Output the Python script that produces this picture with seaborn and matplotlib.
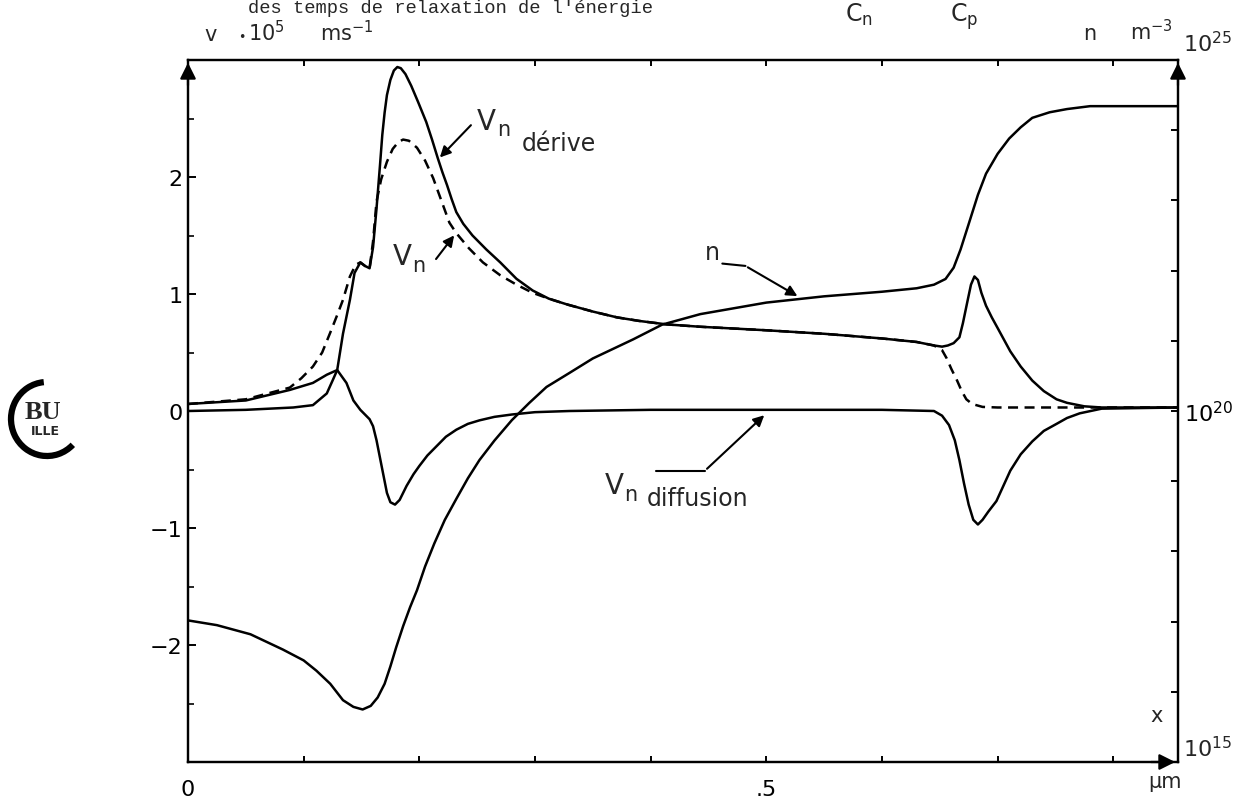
import matplotlib
matplotlib.use("Agg")
import matplotlib.pyplot as plt
import seaborn as sns
from matplotlib.ticker import FixedLocator, NullFormatter
from matplotlib.patches import Arc

# ---------------- data ----------------
# x in micrometre, velocities in 1e5 m/s, n in m^-3
x_derive = [0.0, 0.05, 0.091, 0.108, 0.120, 0.125, 0.129, 0.134, 0.140, 0.144,
            0.149, 0.153, 0.157, 0.160, 0.163, 0.166, 0.168, 0.170, 0.172, 0.175,
            0.178, 0.181, 0.184, 0.188, 0.193, 0.199, 0.206, 0.211, 0.216, 0.220,
            0.224, 0.228, 0.232, 0.238, 0.246, 0.258, 0.270, 0.284, 0.298, 0.312,
            0.328, 0.350, 0.371, 0.390, 0.414, 0.443, 0.50, 0.55, 0.60, 0.630,
            0.645, 0.652, 0.657, 0.662, 0.667, 0.670, 0.674, 0.677, 0.680, 0.683,
            0.686, 0.690, 0.695, 0.700, 0.711, 0.720, 0.730, 0.740, 0.751, 0.760,
            0.775, 0.790, 0.856]
v_derive = [0.0, 0.01, 0.03, 0.05, 0.15, 0.26, 0.35, 0.66, 0.95, 1.18,
            1.27, 1.24, 1.22, 1.40, 1.73, 2.10, 2.36, 2.55, 2.70, 2.83,
            2.91, 2.94, 2.93, 2.88, 2.78, 2.64, 2.47, 2.32, 2.16, 2.04,
            1.93, 1.81, 1.70, 1.60, 1.50, 1.38, 1.27, 1.13, 1.03, 0.96,
            0.91, 0.85, 0.80, 0.77, 0.74, 0.72, 0.69, 0.66, 0.62, 0.59,
            0.56, 0.55, 0.56, 0.58, 0.63, 0.75, 0.94, 1.08, 1.15, 1.12,
            1.01, 0.90, 0.80, 0.71, 0.51, 0.38, 0.26, 0.17, 0.10, 0.07,
            0.04, 0.03, 0.03]

x_total = [0.0, 0.05, 0.088, 0.098, 0.108, 0.116, 0.123, 0.129, 0.134, 0.140,
           0.145, 0.149, 0.153, 0.157, 0.160, 0.163, 0.167, 0.172, 0.177, 0.182,
           0.186, 0.191, 0.198, 0.205, 0.212, 0.219, 0.226, 0.232, 0.243, 0.255,
           0.270, 0.284, 0.298, 0.312, 0.328, 0.350, 0.371, 0.390, 0.414, 0.443,
           0.50, 0.55, 0.60, 0.630, 0.645, 0.652, 0.656, 0.660, 0.665, 0.669,
           0.673, 0.678, 0.687, 0.700, 0.75, 0.80, 0.856]
v_total = [0.06, 0.10, 0.20, 0.28, 0.38, 0.50, 0.67, 0.82, 0.95, 1.15,
           1.25, 1.27, 1.24, 1.22, 1.45, 1.79, 1.98, 2.13, 2.24, 2.30,
           2.32, 2.31, 2.25, 2.14, 1.99, 1.80, 1.61, 1.52, 1.39, 1.27,
           1.16, 1.08, 1.01, 0.96, 0.91, 0.85, 0.80, 0.77, 0.74, 0.72,
           0.69, 0.66, 0.62, 0.59, 0.56, 0.52, 0.45, 0.36, 0.26, 0.17,
           0.10, 0.06, 0.035, 0.03, 0.03, 0.03, 0.03]

x_diff = [0.0, 0.05, 0.088, 0.108, 0.120, 0.129, 0.137, 0.143, 0.149, 0.153,
          0.157, 0.160, 0.163, 0.166, 0.169, 0.172, 0.175, 0.179, 0.183, 0.189,
          0.195, 0.200, 0.207, 0.215, 0.223, 0.232, 0.242, 0.252, 0.265, 0.280,
          0.300, 0.330, 0.40, 0.50, 0.60, 0.645, 0.652, 0.658, 0.663, 0.667,
          0.671, 0.675, 0.679, 0.683, 0.687, 0.692, 0.699, 0.705, 0.711, 0.720,
          0.730, 0.740, 0.751, 0.760, 0.771, 0.790, 0.856]
v_diff = [0.06, 0.09, 0.18, 0.24, 0.31, 0.35, 0.24, 0.09, 0.01, -0.03,
          -0.07, -0.13, -0.25, -0.40, -0.55, -0.70, -0.78, -0.80, -0.76, -0.64,
          -0.54, -0.47, -0.38, -0.30, -0.22, -0.16, -0.11, -0.08, -0.05, -0.03,
          -0.01, 0.0, 0.01, 0.01, 0.01, 0.0, -0.04, -0.12, -0.25, -0.42,
          -0.62, -0.80, -0.93, -0.97, -0.93, -0.86, -0.77, -0.64, -0.51, -0.37,
          -0.26, -0.17, -0.11, -0.06, -0.02, 0.02, 0.03]

x_n = [0.0, 0.025, 0.054, 0.082, 0.100, 0.111, 0.123, 0.134, 0.143, 0.151,
       0.158, 0.164, 0.170, 0.175, 0.180, 0.186, 0.192, 0.198, 0.205, 0.213,
       0.222, 0.232, 0.242, 0.252, 0.265, 0.280, 0.295, 0.310, 0.330, 0.350,
       0.385, 0.410, 0.443, 0.50, 0.55, 0.60, 0.63, 0.645, 0.655, 0.662,
       0.668, 0.675, 0.683, 0.690, 0.700, 0.710, 0.720, 0.730, 0.745, 0.760,
       0.780, 0.80, 0.856]
n_val = [1.04e17, 8.9e16, 6.6e16, 4.0e16, 2.8e16, 2.0e16, 1.3e16, 7.6e15, 6.1e15, 5.6e15,
         6.3e15, 8.3e15, 1.3e16, 2.3e16, 4.3e16, 8.6e16, 1.6e17, 2.8e17, 6.1e17, 1.3e18,
         2.8e18, 5.6e18, 1.1e19, 2.0e19, 3.8e19, 7.4e19, 1.3e20, 2.2e20, 3.5e20, 5.6e20,
         1.05e21, 1.7e21, 2.4e21, 3.5e21, 4.3e21, 5.0e21, 5.6e21, 6.3e21, 7.6e21, 1.1e22,
         2.0e22, 4.6e22, 1.2e23, 2.4e23, 4.6e23, 7.6e23, 1.1e24, 1.5e24, 1.8e24, 2.0e24,
         2.2e24, 2.2e24, 2.2e24]

x_major = [0.0, 0.5]
x_major_labels = ["0", ".5"]
x_minor = [0.1, 0.2, 0.3, 0.4, 0.6, 0.7, 0.8]
y_major = [-2, -1, 0, 1, 2]
y_minor = [-2.5, -1.5, -0.5, 0.5, 1.5, 2.5]
n_major = [1e15, 1e20, 1e25]
n_minor = [1e16, 1e17, 1e18, 1e19, 1e21, 1e22, 1e23, 1e24]

# ---------------- styling ----------------
sns.set_style("white")
plt.rcParams['font.family'] = ['DejaVu Sans']
plt.rcParams['mathtext.fontset'] = 'dejavusans'

W, H = 1239, 803
fig = plt.figure(figsize=(W / 100, H / 100), dpi=100)
L, R, T, B = 188, 1178, 61, 763
ax = fig.add_axes([L / W, 1 - B / H, (R - L) / W, (B - T) / H])
ax2 = ax.twinx()

LW = 1.8
sns.lineplot(x=x_derive, y=v_derive, ax=ax, color="black", linewidth=LW,
             estimator=None, sort=False)
sns.lineplot(x=x_total, y=v_total, ax=ax, color="black", linewidth=LW,
             linestyle=(0, (4, 2.6)), estimator=None, sort=False)
sns.lineplot(x=x_diff, y=v_diff, ax=ax, color="black", linewidth=LW,
             estimator=None, sort=False)
sns.lineplot(x=x_n, y=n_val, ax=ax2, color="black", linewidth=LW,
             estimator=None, sort=False)

ax.set_xlim(0, 0.856)
ax.set_ylim(-3, 3)
ax2.set_yscale("log")
ax2.set_ylim(1e15, 1e25)

for a in (ax, ax2):
    for s in a.spines.values():
        s.set_visible(True)
        s.set_color("black")
        s.set_linewidth(1.6)
    a.set_xlabel("")
    a.set_ylabel("")

ax.xaxis.set_major_locator(FixedLocator(x_major))
ax.set_xticklabels(x_major_labels)
ax.xaxis.set_minor_locator(FixedLocator(x_minor))
ax.yaxis.set_major_locator(FixedLocator(y_major))
ax.set_yticklabels([str(v).replace("-", "\u2212") for v in y_major])
ax.yaxis.set_minor_locator(FixedLocator(y_minor))
ax.tick_params(axis="x", which="both", direction="in", length=4.5, width=1.4,
               top=True, bottom=True, labelsize=16, pad=12, colors="black")
ax.tick_params(axis="y", which="major", direction="in", length=5.5, width=1.4,
               left=True, right=False, labelsize=16, pad=4, colors="black")
ax.tick_params(axis="y", which="minor", direction="in", length=4.5, width=1.4,
               left=True, right=False)

ax2.yaxis.set_major_locator(FixedLocator(n_major))
ax2.set_yticklabels(["", "10$^{20}$", ""])
ax2.yaxis.set_minor_locator(FixedLocator(n_minor))
ax2.yaxis.set_minor_formatter(NullFormatter())
ax2.tick_params(axis="y", which="both", direction="in", length=5, width=1.4,
                left=False, right=True, labelsize=16, pad=4, colors="black")

# axis arrows
arw = dict(arrowstyle="-|>", color="black", lw=1.6, mutation_scale=24)
ax.annotate("", xy=(0, 1), xytext=(0, 0.96), xycoords="axes fraction", arrowprops=arw)
ax.annotate("", xy=(1, 1), xytext=(1, 0.96), xycoords="axes fraction", arrowprops=arw)
ax.annotate("", xy=(1, 0), xytext=(0.97, 0), xycoords="axes fraction", arrowprops=arw)

# curve labels
small_arw = dict(arrowstyle="-|>", color="black", lw=1.5, mutation_scale=16)
ax.text(0.250, 2.41, "V", fontsize=20, ha="left", va="baseline")
ax.text(0.267, 2.36, "n", fontsize=15, ha="left", va="baseline")
ax.text(0.289, 2.23, "dérive", fontsize=17, ha="left", va="baseline")
ax.annotate("", xy=(0.2161, 2.15), xytext=(0.2463, 2.46), xycoords="data",
            arrowprops=small_arw)

ax.text(0.177, 1.26, "V", fontsize=20, ha="left", va="baseline")
ax.text(0.194, 1.20, "n", fontsize=15, ha="left", va="baseline")
ax.annotate("", xy=(0.2316, 1.52), xytext=(0.213, 1.28), xycoords="data",
            arrowprops=small_arw)

ax.text(0.447, 1.30, "n", fontsize=17, ha="left", va="baseline")
ax.plot([0.462, 0.482], [1.26, 1.24], color="black", lw=1.5)
ax.annotate("", xy=(0.529, 0.97), xytext=(0.482, 1.24), xycoords="data",
            arrowprops=small_arw)

ax.text(0.360, -0.70, "V", fontsize=20, ha="left", va="baseline")
ax.text(0.377, -0.76, "n", fontsize=15, ha="left", va="baseline")
ax.text(0.397, -0.80, "diffusion", fontsize=17, ha="left", va="baseline")
ax.plot([0.405, 0.447], [-0.51, -0.51], color="black", lw=1.5)
ax.annotate("", xy=(0.500, -0.02), xytext=(0.447, -0.51), xycoords="data",
            arrowprops=small_arw)

# axis titles / units
def fx(px):
    return px / W

def fy(py):
    return 1 - py / H

fig.text(fx(1183), fy(52), "10$^{25}$", fontsize=16, va="baseline")
fig.text(fx(1183), fy(757), "10$^{15}$", fontsize=16, va="baseline")
fig.text(fx(204), fy(41), "v", fontsize=15, va="baseline")
fig.text(fx(238), fy(41), "\u2022", fontsize=9, va="baseline")
fig.text(fx(248), fy(41), "10$^{5}$", fontsize=15, va="baseline")
fig.text(fx(320), fy(41), "ms$^{-1}$", fontsize=15, va="baseline")
fig.text(fx(1083), fy(40), "n", fontsize=15, va="baseline")
fig.text(fx(1130), fy(40), "m$^{-3}$", fontsize=15, va="baseline")
fig.text(fx(1150), fy(722), "x", fontsize=15, va="baseline")
fig.text(fx(1148), fy(788), "\u00b5m", fontsize=15, va="baseline")

# caption line at the very top
fig.text(fx(248), fy(13), "des temps de relaxation de l'énergie",
         fontsize=13.5, family="Liberation Mono", va="baseline")
fig.text(fx(845), fy(22), "C$_\\mathregular{n}$", fontsize=17, va="baseline")
fig.text(fx(950), fy(22), "C$_\\mathregular{p}$", fontsize=17, va="baseline")

# library stamp
sax = fig.add_axes([0 / W, 1 - 465 / H, 90 / W, 90 / H])
sax.set_xlim(0, 90)
sax.set_ylim(0, 90)
sax.set_aspect("equal")
sax.axis("off")
sax.add_patch(Arc((47, 45), 72, 74, theta1=95, theta2=315, lw=4.5, color="black"))
sax.text(43, 52, "BU", fontsize=19, fontweight="bold", family="Liberation Serif",
         ha="center", va="center")
sax.text(45, 33, "ILLE", fontsize=9, fontweight="bold", family="DejaVu Sans",
         ha="center", va="center")

fig.savefig("out.png", dpi=100, facecolor="white")
